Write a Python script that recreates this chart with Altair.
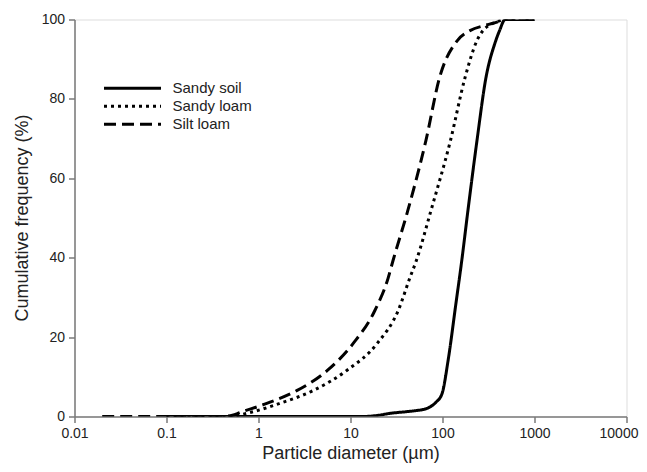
import altair as alt
import pandas as pd

# Series data (particle diameter in µm, cumulative frequency in %)
series_names = ["Sandy soil", "Sandy loam", "Silt loam"]

soil_x = [0.1, 1, 10, 13.5, 20, 27, 40, 52, 65, 73, 85, 99, 115, 140, 162, 189, 237, 297, 371, 417, 480, 600, 1000]
soil_y = [0, 0, 0, 0, 0.3, 0.8, 1.2, 1.5, 1.9, 2.4, 3.6, 5.8, 14.1, 28.5, 39.3, 51.9, 69.5, 85.4, 94.0, 97.2, 100, 100, 100]

loam_x = [0.1, 0.5, 0.6, 0.81, 1.7, 3.9, 9.1, 19.5, 33, 44, 52, 75, 122, 176, 237, 275, 330, 400, 480, 600, 1000]
loam_y = [0, 0, 0.3, 1.0, 3.3, 6.5, 11.6, 18.4, 26.7, 34.8, 39.3, 51.9, 69.5, 85.4, 94.7, 97.2, 98.7, 99.5, 100, 100, 100]

silt_x = [0.02, 0.1, 0.4, 0.52, 0.63, 1.23, 2.6, 5.6, 10.7, 18.4, 25.6, 29, 42, 66, 93, 145, 199, 300, 400, 480, 600, 1000]
silt_y = [0, 0, 0, 0.3, 1.0, 3.3, 6.5, 11.6, 18.4, 26.7, 34.8, 39.3, 51.9, 69.5, 85.4, 94.7, 97.2, 98.6, 99.4, 100, 100, 100]

x_ticks = [0.01, 0.1, 1, 10, 100, 1000, 10000]
y_ticks = [0, 20, 40, 60, 80, 100]

rows = []
for name, xs, ys in zip(series_names, [soil_x, loam_x, silt_x], [soil_y, loam_y, silt_y]):
    for i, (a, b) in enumerate(zip(xs, ys)):
        rows.append({"series": name, "d": a, "f": b, "order": i})
df = pd.DataFrame(rows)

FONT = "Liberation Sans"
GRAY = "#7a7a7a"
TXT = "#222222"

chart = alt.Chart(df).mark_line(
    color="black", strokeWidth=3, interpolate="monotone", clip=True
).encode(
    x=alt.X("d:Q",
            scale=alt.Scale(type="log", domain=[0.01, 10000], nice=False),
            axis=alt.Axis(values=x_ticks, format="~g", title="Particle diameter (µm)",
                          grid=False, tickSize=6, labelPadding=4,
                          domainColor=GRAY, tickColor=GRAY, domainWidth=1.5, tickWidth=1.5,
                          labelFontSize=14, titleFontSize=18, labelColor=TXT, titleColor=TXT,
                          labelFont=FONT, titleFont=FONT, titleFontWeight="normal",
                          titleX=276, titleY=37, titleAlign="center", titleBaseline="middle",
                          labelFlush=False,
                          labelOffset={"condition": {"test": "datum.value == 10000", "value": -8},
                                       "value": 0})),
    y=alt.Y("f:Q",
            scale=alt.Scale(domain=[0, 100], nice=False),
            axis=alt.Axis(values=y_ticks, title="Cumulative frequency (%)",
                          grid=False, tickSize=6, labelPadding=4,
                          domainColor=GRAY, tickColor=GRAY, domainWidth=1.5, tickWidth=1.5,
                          labelFontSize=14, titleFontSize=18, labelColor=TXT, titleColor=TXT,
                          labelFont=FONT, titleFont=FONT, titleFontWeight="normal",
                          titleX=-52, titleY=198, titleAngle=270, titleAlign="center",
                          titleBaseline="middle", labelFlush=False)),
    strokeDash=alt.StrokeDash("series:N",
        scale=alt.Scale(domain=series_names, range=[[1, 0], [3, 4], [12, 6]]),
        legend=alt.Legend(title=None, orient="none", legendX=28, legendY=60,
                          symbolType="stroke", symbolSize=3249, symbolStrokeWidth=3,
                          symbolStrokeColor="black", clipHeight=17.5, rowPadding=0,
                          padding=0, labelOffset=10, labelFontSize=15, labelFont=FONT,
                          labelColor=TXT)),
    order="order:Q",
).properties(
    width=552, height=397,
    autosize=alt.AutoSizeParams(type="none"),
    padding={"left": 66.5, "top": 11.5, "right": 12, "bottom": 47},
).configure_view(
    stroke=GRAY, strokeWidth=1.5
).configure(background="white")

chart.save("out.html", embed_options={"renderer": "svg", "actions": False})
